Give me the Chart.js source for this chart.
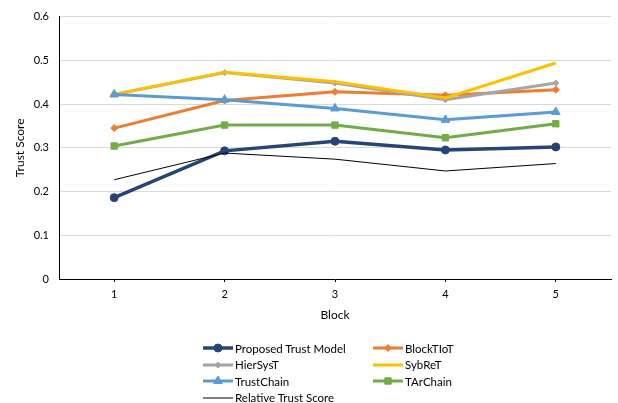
<!DOCTYPE html>
<html>
<head>
<meta charset="utf-8">
<script src="https://cdn.jsdelivr.net/npm/chart.js@4"></script>
<style>
  html, body { margin: 0; padding: 0; background: #fff; }
  #wrap { position: relative; width: 618px; height: 403px; }
  #legend { position: absolute; left: 0; top: 0; width: 618px; height: 403px; pointer-events: none;
            font-family: Lato, "Liberation Sans", sans-serif; font-size: 11.5px; color: #000; }
  .item { position: absolute; display: flex; align-items: center; height: 14px; white-space: nowrap; }
  .item canvas { display: block; margin-right: 2px; }
</style>
</head>
<body>
<div id="wrap">
  <canvas id="c" width="618" height="403"></canvas>
  <div id="legend"></div>
</div>
<script>
// Categories (blocks) and the trust score of each model per block
const blocks = ['1', '2', '3', '4', '5'];
const proposedTrust = [0.186, 0.293, 0.315, 0.295, 0.302];
const blockTIoT     = [0.345, 0.408, 0.428, 0.420, 0.433];
const hierSysT      = [0.422, 0.472, 0.448, 0.410, 0.448];
const sybReT        = [0.422, 0.473, 0.451, 0.414, 0.494];
const trustChain    = [0.422, 0.410, 0.390, 0.364, 0.382];
const tArChain      = [0.304, 0.352, 0.352, 0.323, 0.355];
const relativeTrust = [0.227, 0.288, 0.274, 0.247, 0.264];
const yTicks = [0, 0.1, 0.2, 0.3, 0.4, 0.5, 0.6];

const FONT = 'Lato, "Liberation Sans", sans-serif';

const series = [
  { label: 'Proposed Trust Model', data: proposedTrust, color: '#264478', width: 3.5, style: 'circle',   radius: 4 },
  { label: 'BlockTIoT',            data: blockTIoT,     color: '#ED7D31', width: 3,   style: 'rectRot',  radius: 3.5 },
  { label: 'HierSysT',             data: hierSysT,      color: '#A5A5A5', width: 3,   style: 'rectRot',  radius: 3 },
  { label: 'SybReT',               data: sybReT,        color: '#FFC000', width: 3,   style: false,      radius: 0 },
  { label: 'TrustChain',           data: trustChain,    color: '#5B9BD5', width: 3,   style: 'triangle', radius: 5 },
  { label: 'TArChain',             data: tArChain,      color: '#70AD47', width: 3,   style: 'rect',     radius: 4.5 },
  { label: 'Relative Trust Score', data: relativeTrust, color: '#000000', width: 1,   style: false,      radius: 0 }
];

const datasets = series.map((s, i) => ({
  label: s.label,
  data: s.data,
  borderColor: s.color,
  backgroundColor: s.color,
  borderWidth: s.width,
  pointStyle: s.style || 'circle',
  pointRadius: s.radius,
  pointBackgroundColor: s.color,
  pointBorderColor: s.color,
  pointBorderWidth: 1,
  tension: 0,
  fill: false,
  order: series.length - i   // later series are painted on top
}));

new Chart(document.getElementById('c'), {
  type: 'line',
  data: { labels: blocks, datasets },
  options: {
    responsive: false,
    animation: false,
    devicePixelRatio: 1,
    layout: { padding: { left: 0, right: 7, top: 15, bottom: 79 } },
    plugins: { legend: { display: false }, tooltip: { enabled: false } },
    scales: {
      x: {
        type: 'category',
        offset: true,
        grid: { display: true, drawOnChartArea: false, drawTicks: true, tickLength: 3, tickColor: '#000', offset: false },
        border: { color: '#000', width: 1 },
        ticks: { color: '#000', font: { family: FONT, size: 11 }, padding: 6, maxRotation: 0 },
        title: { display: true, text: 'Block', color: '#000', font: { family: FONT, size: 12 }, padding: { top: 0, bottom: 2 } },
        afterFit: s => { s.height = 45; }
      },
      y: {
        min: 0,
        max: 0.6,
        afterBuildTicks: s => { s.ticks = yTicks.map(v => ({ value: v })); },
        grid: { color: '#d9d9d9', lineWidth: 1, drawTicks: false },
        border: { color: '#000', width: 1 },
        ticks: { color: '#000', font: { family: FONT, size: 11 }, padding: 10,
                 callback: v => (Math.round(v * 10) / 10).toString() },
        title: { display: true, text: 'Trust Score', color: '#000', font: { family: FONT, size: 12 }, padding: { top: 13, bottom: 0 } },
        afterFit: s => { s.width = 59; }
      }
    }
  }
});

// Two-column legend below the plot
const legendEl = document.getElementById('legend');
const cols = [203, 373];
const rows = [348, 364.5, 381, 397.5];
series.forEach((s, i) => {
  const item = document.createElement('div');
  item.className = 'item';
  item.style.left = cols[i % 2] + 'px';
  item.style.top = (rows[Math.floor(i / 2)] - 7) + 'px';
  const sw = document.createElement('canvas');
  sw.width = 30; sw.height = 14;
  const ctx = sw.getContext('2d');
  ctx.strokeStyle = s.color;
  ctx.fillStyle = s.color;
  ctx.lineWidth = s.width;
  ctx.beginPath();
  ctx.moveTo(0, 7); ctx.lineTo(30, 7);
  ctx.stroke();
  if (s.style) {
    ctx.lineWidth = 1;
    Chart.helpers.drawPoint(ctx, { pointStyle: s.style, radius: s.radius, rotation: 0, borderWidth: 1 }, 15, 7);
  }
  const txt = document.createElement('span');
  txt.textContent = s.label;
  item.appendChild(sw);
  item.appendChild(txt);
  legendEl.appendChild(item);
});
</script>
</body>
</html>
